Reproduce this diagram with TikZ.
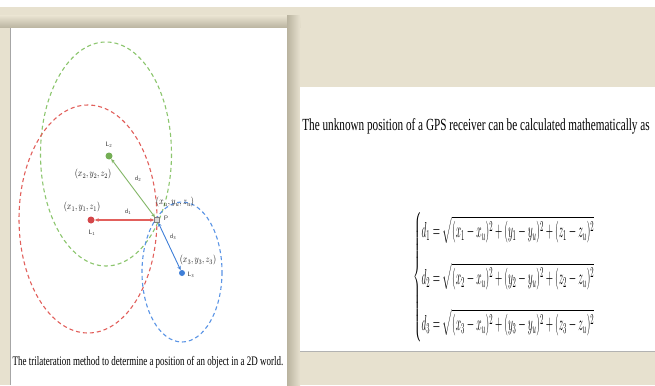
\documentclass[tikz,border=0pt]{standalone}
\usepackage{amsmath,xcolor,graphicx}
\usepackage{fontspec}
\setmainfont{Liberation Serif}
\usetikzlibrary{calc,arrows.meta}

\definecolor{beige}{HTML}{E7E1CF}
\definecolor{beigedark}{HTML}{B9B39F}
\definecolor{ringgreen}{HTML}{8CC66E}
\definecolor{ringred}{HTML}{E2605C}
\definecolor{ringblue}{HTML}{5B95E6}
\definecolor{dotgreen}{HTML}{74AE55}
\definecolor{dotred}{HTML}{D4474A}
\definecolor{dotblue}{HTML}{3F7FD8}

\begin{document}
\begin{tikzpicture}[x=1pt,y=-1pt,
  ring/.style={dash pattern=on 4pt off 3pt, line width=1.1pt},
  beacon/.style={circle, inner sep=0pt, minimum size=7pt},
  tag/.style={font=\sffamily\fontsize{6.5}{7}\selectfont, inner sep=1pt, text=black!75},
  coord/.style={font=\fontsize{10}{11}\selectfont, inner sep=1pt, text=black!90},
  tip/.style={{Stealth[length=4pt,width=3.5pt]}-{Stealth[length=4pt,width=3.5pt]}}]
  % page and panels
  \useasboundingbox (0,0) rectangle (655,385);
  \fill[beige] (0,7) rectangle (655,385);
  \shade[top color=beige, bottom color=beigedark] (0,16) rectangle (300,28);
  \shade[left color=beigedark, right color=beige] (287,16) rectangle (300,385);
  \fill[white] (10,28) rectangle (287,385);
  \draw[gray!70, line width=1pt] (10.5,28) -- (10.5,385);
  \fill[white] (300,87) rectangle (655,352);
  \draw[gray!60, line width=1pt] (300,351.5) -- (655,351.5);

  % beacons and receiver
  \coordinate (c1) at (88,219);
  \coordinate (c2) at (106,154);
  \coordinate (c3) at (182,272);

  \draw[ring, ringgreen] (c2) ellipse [x radius=65.5, y radius=112];
  \draw[ring, ringred] (c1) ellipse [x radius=69, y radius=114];
  \draw[ring, ringblue] (c3) ellipse [x radius=40, y radius=70];

  \node[beacon, fill=dotred] (L1) at (91,220) {};
  \node[beacon, fill=dotgreen] (L2) at (109,156) {};
  \node[beacon, fill=dotblue, minimum size=6pt] (L3) at (182,273) {};
  \node[draw=gray, fill=gray!30, inner sep=0pt, minimum size=5pt] (P) at (157,220) {};

  \draw[tip, dotgreen!90, line width=0.9pt] (P) -- (L2);
  \draw[tip, ringred, line width=2pt] (P) -- (L1);
  \draw[tip, dotblue, line width=0.9pt] (P) -- (L3);

  % labels
  \node[tag] (t1) at (92,233) {L\textsubscript{1}};
  \node[tag] (t2) at (109,145) {L\textsubscript{2}};
  \node[tag] (t3) at (191,275) {L\textsubscript{3}};
  \node[tag] (tp) at (166,218) {P};
  \node[tag] (d1) at (128,212) {d\textsubscript{1}};
  \node[tag] (d2) at (138,179) {d\textsubscript{2}};
  \node[tag] (d3) at (173,237) {d\textsubscript{3}};
  \node[coord] (p1) at (82,207) {\scalebox{0.8}[1]{$(x_1,y_1,z_1)$}};
  \node[coord] (p2) at (93,174) {\scalebox{0.8}[1]{$(x_2,y_2,z_2)$}};
  \node[coord] (p3) at (198,260) {\scalebox{0.8}[1]{$(x_3,y_3,z_3)$}};
  \node[coord] (pu) at (175,202) {\scalebox{0.8}[1]{$(x_u,y_u,z_u)$}};

  \node (caption) at (148,362) {\scalebox{0.69}[1]{\fontsize{13}{15}\selectfont The trilateration method to determine a position of an object in a 2D world.}};

  % right panel
  \node (head) at (476,126) {\scalebox{0.66}[1]{\fontsize{17}{19}\selectfont The unknown position of a GPS receiver can be calculated mathematically as}};
  \node (eqs) at (504,277) {\scalebox{0.66}[1.5]{\fontsize{14}{16}\selectfont $\left\{\vphantom{\rule{0pt}{46pt}}\begin{aligned}
    d_1 &= \sqrt{(x_1-x_u)^2+(y_1-y_u)^2+(z_1-z_u)^2}\\[8pt]
    d_2 &= \sqrt{(x_2-x_u)^2+(y_2-y_u)^2+(z_2-z_u)^2}\\[8pt]
    d_3 &= \sqrt{(x_3-x_u)^2+(y_3-y_u)^2+(z_3-z_u)^2}
  \end{aligned}\right.$}};
\end{tikzpicture}
\end{document}
